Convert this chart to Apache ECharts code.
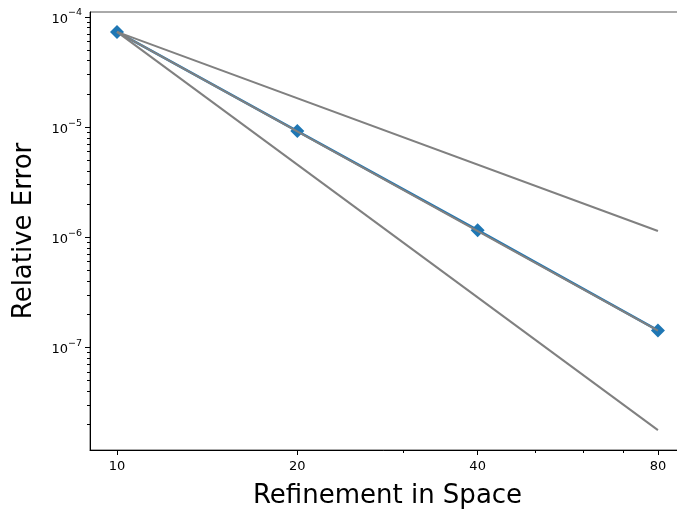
<!DOCTYPE html>
<html>
<head>
<meta charset="utf-8">
<script src="https://cdn.jsdelivr.net/npm/echarts@6/dist/echarts.min.js"></script>
<style>
  html, body { margin: 0; padding: 0; background: #fff; }
  #chart { width: 677px; height: 510px; }
</style>
</head>
<body>
<div id="chart"></div>
<script>
// Grid refinement levels (x) and measured relative errors (y)
const refinement = [10, 20, 40, 80];
const relativeError = [7.3e-5, 9.2e-6, 1.16e-6, 1.43e-7];

// Reference convergence lines: start and end values at x = 10 and x = 80
const refEnds = [10, 80];
const order2Line = [7.3e-5, 1.14e-6];
const order3Line = [7.3e-5, 1.426e-7];
const order4Line = [7.3e-5, 1.78e-8];

// Tick positions
const xMajorTicks = [10, 20, 40, 80];
const xMinorTicks = [30, 50, 60, 70];
const yMajorTicks = [1e-7, 1e-6, 1e-5, 1e-4];
const yMinorTicks = [];
[1e-8, 1e-7, 1e-6, 1e-5].forEach(function (d) {
  for (let m = 2; m <= 9; m++) yMinorTicks.push(m * d);
});

// Axis ranges (log scale with a small padding around the data)
const xRange = [9.013, 88.77];
const yRange = [1.175e-8, 1.107e-4];

const FONT = 'DejaVu Sans';
const pairs = (xs, ys) => xs.map((x, i) => [x, ys[i]]);

const chart = echarts.init(document.getElementById('chart'), null, { renderer: 'canvas' });

const gray = '#808080';
const blue = '#1f77b4';

const refSeries = (data) => ({
  type: 'line',
  data: pairs(refEnds, data),
  showSymbol: false,
  symbol: 'none',
  lineStyle: { color: gray, width: 2 },
  z: 3,
  silent: true
});

chart.setOption({
  animation: false,
  backgroundColor: '#fff',
  grid: {
    left: 90, top: 12, width: 595, height: 438,
    outerBoundsMode: 'none', containLabel: false,
    show: true, borderColor: '#555', borderWidth: 1, backgroundColor: 'transparent'
  },
  xAxis: [
    {
      type: 'log', logBase: 10, min: xRange[0], max: xRange[1],
      name: 'Refinement in Space', nameLocation: 'middle', nameGap: 33,
      nameTextStyle: { fontFamily: FONT, fontSize: 26, color: '#000' },
      axisLine: { show: true, lineStyle: { color: '#000', width: 1 } },
      axisTick: { show: true, inside: false, length: 5, lineStyle: { color: '#000' }, customValues: xMajorTicks },
      axisLabel: {
        show: true, margin: 10, fontFamily: FONT, fontSize: 13, color: '#000',
        customValues: xMajorTicks,
        formatter: (v) => String(Math.round(v))
      },
      splitLine: { show: false },
      minorTick: { show: false }
    },
    {
      type: 'log', logBase: 10, min: xRange[0], max: xRange[1], position: 'bottom',
      axisLine: { show: false },
      axisTick: { show: true, inside: false, length: 3, lineStyle: { color: '#000' }, customValues: xMinorTicks },
      axisLabel: { show: false },
      splitLine: { show: false }
    }
  ],
  yAxis: [
    {
      type: 'log', logBase: 10, min: yRange[0], max: yRange[1],
      name: 'Relative Error', nameLocation: 'middle', nameGap: 53,
      nameTextStyle: { fontFamily: FONT, fontSize: 26, color: '#000' },
      axisLine: { show: true, lineStyle: { color: '#000', width: 1 } },
      axisTick: { show: true, inside: false, length: 5, lineStyle: { color: '#000' }, customValues: yMajorTicks },
      axisLabel: {
        show: true, margin: 8, color: '#000',
        customValues: yMajorTicks,
        formatter: (v) => '{b|10}{s|\u2212' + Math.round(-Math.log10(v)) + '}',
        rich: {
          b: { fontFamily: FONT, fontSize: 13, color: '#000', verticalAlign: 'bottom', lineHeight: 18 },
          s: { fontFamily: FONT, fontSize: 9.5, color: '#000', verticalAlign: 'top', lineHeight: 18 }
        }
      },
      splitLine: { show: false },
      minorTick: { show: false }
    },
    {
      type: 'log', logBase: 10, min: yRange[0], max: yRange[1], position: 'left',
      axisLine: { show: false },
      axisTick: { show: true, inside: false, length: 3, lineStyle: { color: '#000' }, customValues: yMinorTicks },
      axisLabel: { show: false },
      splitLine: { show: false }
    }
  ],
  series: [
    {
      type: 'line',
      data: pairs(refinement, relativeError),
      symbol: 'diamond',
      symbolSize: 14,
      showSymbol: true,
      itemStyle: { color: blue },
      lineStyle: { color: blue, width: 2.5 },
      z: 2,
      silent: true
    },
    refSeries(order2Line),
    refSeries(order3Line),
    refSeries(order4Line)
  ]
});
</script>
</body>
</html>
